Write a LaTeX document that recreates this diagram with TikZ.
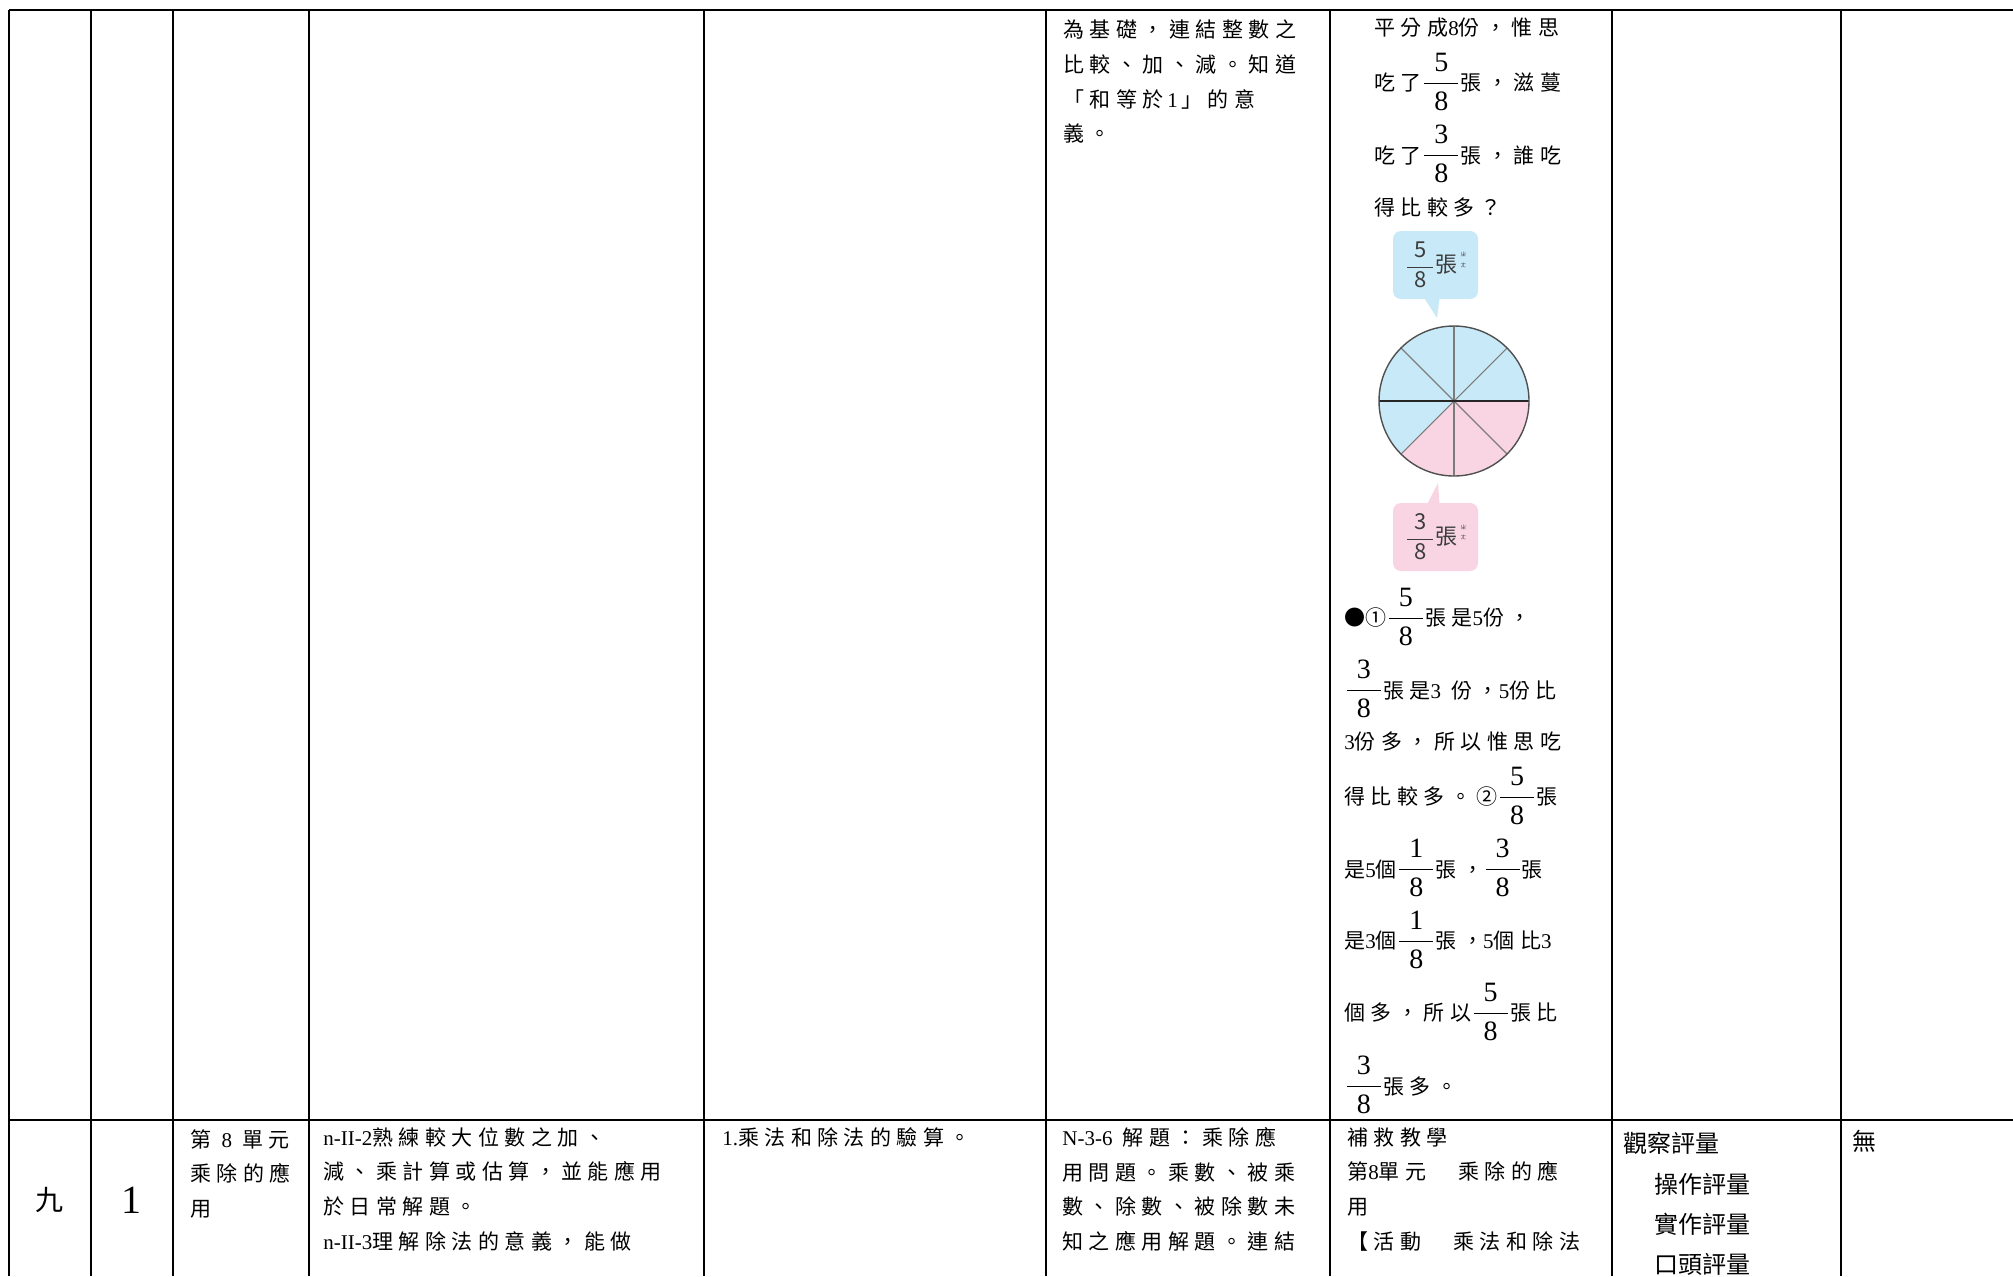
\documentclass[tikz,border=0pt]{standalone}
\usepackage{fontspec}
\newfontfamily\zh{Noto Sans CJK TC}[LetterSpace=26]
\newfontfamily\zhtight{Noto Sans CJK TC}
\newfontfamily\lat{Liberation Serif}

\definecolor{pieblue}{HTML}{C8E9F8}
\definecolor{piepink}{HTML}{F9D5E3}
\definecolor{pieedge}{HTML}{505050}
\definecolor{bubtext}{HTML}{3C3C3C}

% word-style fraction in the text lines, and the small one in the tags
\newcommand\fr[2]{{\fontsize{14}{14}\selectfont$\displaystyle\frac{\makebox[17pt]{\lat #1}}{\mbox{\lat #2}}$}}
\newcommand\bfr[2]{$\displaystyle\frac{\makebox[13pt]{#1}}{\mbox{#2}}$}
\newcommand\zhang{張\kern1.5pt\raisebox{2.5pt}{\fontsize{2.8}{4}\selectfont\shortstack{ㄓ\\ㄤ}}}

\begin{document}
\begin{tikzpicture}[x=0.5pt, y=-0.5pt,
  rule/.style={line width=1.35pt},
  cell/.style={anchor=north west, inner sep=0pt, align=left, font=\zh\fontsize{10.5}{17.35}\selectfont},
  row/.style={anchor=west, inner sep=0pt, font=\zh\fontsize{10.5}{17.35}\selectfont},
  tag/.style={rounded corners=4pt, inner sep=0pt, minimum width=42.5pt, minimum height=34pt, text=bubtext, font=\zhtight\fontsize{11}{11}\selectfont}]

\useasboundingbox (0,0) rectangle (2013,1276);
\fill[white] (0,0) rectangle (2013,1276);

% table rules
\draw[rule] (9,10) -- (2013,10);
\draw[rule] (9,1120) -- (2013,1120);
\foreach \x in {9,91,173,309,704,1046,1330,1612,1841}
  \draw[rule] (\x,10) -- (\x,1276);

% upper row, column of core ideas
\node[cell] (ideaTop) at (1063,19.5) {為基礎，連結整數之\\比較、加、減。知道\\「和等於{\lat\,1\,}」的意\\義。};

% upper row, activity column
\node[row] (q1) at (1374,28) {平分成{\lat 8}份，惟思};
\node[row] (q2) at (1374,82) {吃了\fr58張，滋蔓};
\node[row] (q3) at (1374,154) {吃了\fr38張，誰吃};
\node[row] (q4) at (1374,207) {得比較多？};

\node[tag, fill=pieblue] (tag5) at (1435.5,265) {\bfr58\zhang};
\coordinate (tip5) at (1437,318);
\fill[pieblue] ([shift={(-11,-1)}]tag5.south) -- (tip5) -- ([shift={(4,-1)}]tag5.south) -- cycle;

% pizza cut in 8
\coordinate (o) at (1454,401);
\fill[pieblue] (o) -- ++(135:75) arc[start angle=135, end angle=360, radius=75] -- cycle;
\fill[piepink] (o) -- ++(0:75) arc[start angle=0, end angle=135, radius=75] -- cycle;
\foreach \a in {45,90,135,225,270,315}
  \draw[pieedge!75, line width=0.55pt] (o) -- ++(\a:75);
\draw[black!85, line width=0.55pt] (o) -- ++(0:75);
\draw[black!85, line width=0.55pt] (o) -- ++(180:75);
\draw[pieedge, line width=0.7pt] (o) circle[radius=75];

\node[tag, fill=piepink] (tag3) at (1435.5,537) {\bfr38\zhang};
\coordinate (tip3) at (1438,483);
\fill[piepink] ([shift={(-8,1)}]tag3.north) -- (tip3) -- ([shift={(4,1)}]tag3.north) -- cycle;

\node[row] (a1) at (1344,617) {\zhtight ●①\zh\fr58張是{\lat 5}份，};
\node[row] (a2) at (1344,689) {\fr38張是{\lat 3} 份，{\lat 5}份比};
\node[row] (a3) at (1344,742) {{\lat 3}份多，所以惟思吃};
\node[row] (a4) at (1344,796) {得比較多。②\fr58張};
\node[row] (a5) at (1344,868) {是{\lat 5}個\fr18張，\fr38張};
\node[row] (a6) at (1344,940) {是{\lat 3}個\fr18張，{\lat 5}個比{\lat 3}};
\node[row] (a7) at (1344,1012) {個多，所以\fr58張比};
\node[row] (a8) at (1344,1085) {\fr38張多。};

% lower row
\node[inner sep=0pt, font=\zhtight\fontsize{14}{14}\selectfont] (week) at (49,1200) {九};
\node[inner sep=0pt, font=\lat\fontsize{20}{20}\selectfont] (hours) at (131,1200) {1};
\node[cell] (unit) at (190,1129) {第 {\lat 8} 單元\\乘除的應\\用};
\node[cell] (goal) at (323,1127) {{\lat n-II-2}熟練較大位數之加、\\減、乘計算或估算，並能應用\\於日常解題。\\{\lat n-II-3}理解除法的意義，能做};
\node[cell] (focus) at (722,1127) {{\lat 1.}乘法和除法的驗算。};
\node[cell] (idea) at (1062,1127) {{\lat N-3-6} 解題：乘除應\\用問題。乘數、被乘\\數、除數、被除數未\\知之應用解題。連結};
\node[cell] (act) at (1347,1127) {補救教學\\第{\lat 8}單元　乘除的應\\用\\【活動　乘法和除法};
\node[cell, font=\zhtight\fontsize{12}{20.2}\selectfont] (assess) at (1623,1132) {觀察評量\\\hspace*{15.5pt}操作評量\\\hspace*{15.5pt}實作評量\\\hspace*{15.5pt}口頭評量};
\node[cell, font=\zhtight\fontsize{12}{20.2}\selectfont] (note) at (1852,1130) {無};
\end{tikzpicture}
\end{document}
